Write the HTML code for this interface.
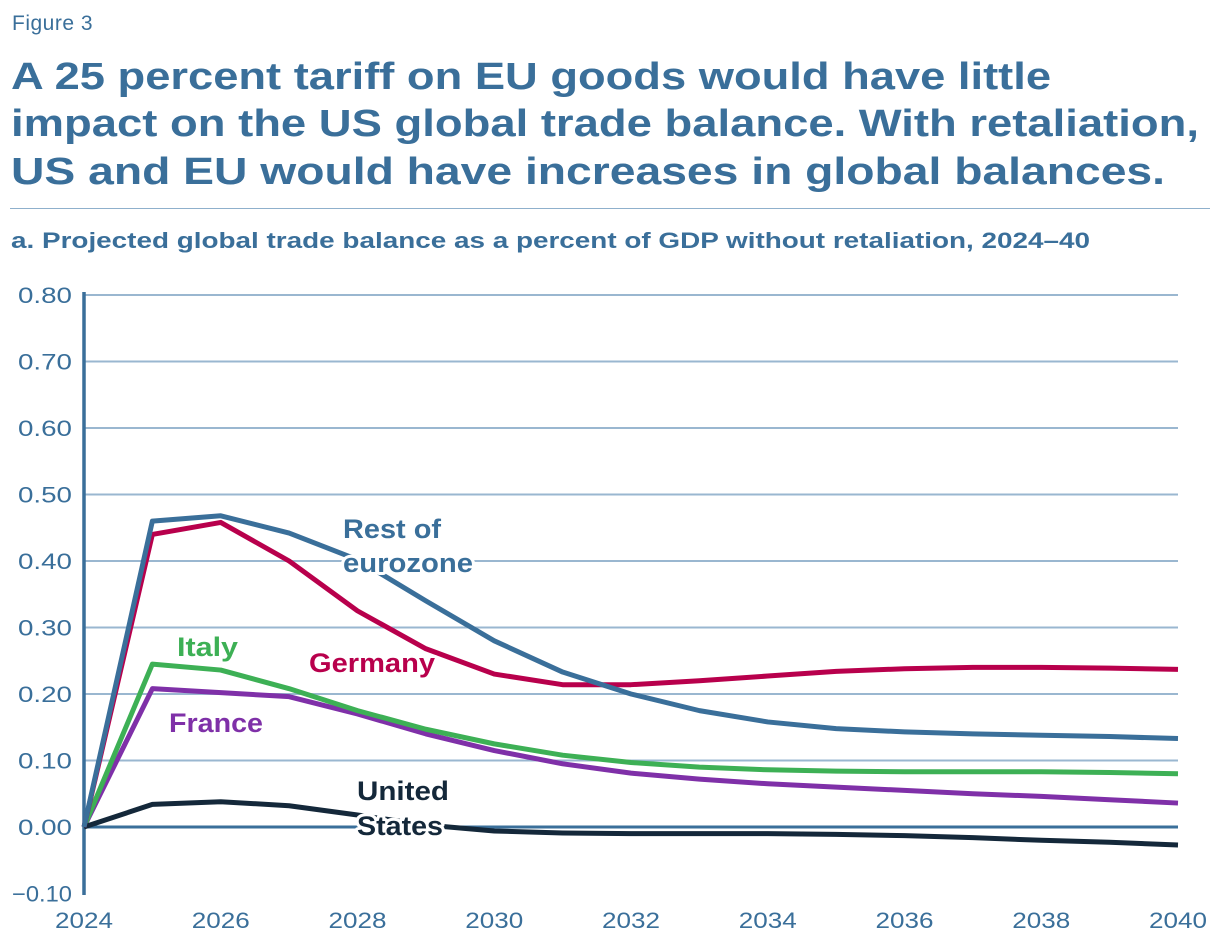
<!DOCTYPE html>
<html><head><meta charset="utf-8">
<style>
body{margin:0;background:#fff;width:1220px;height:946px;overflow:hidden;font-family:"Liberation Sans",sans-serif;}
.fig{position:absolute;left:12px;top:12px;font-size:21px;color:#3a6f9a;letter-spacing:0.5px;}
.tl{position:absolute;left:11px;font-size:38px;line-height:40px;font-weight:bold;color:#3a6f9a;white-space:nowrap;transform-origin:0 0;}
.rule{position:absolute;left:10px;top:208px;width:1200px;height:1px;background:#8fb0cc;}
.sub{position:absolute;left:11px;top:228px;font-size:22px;font-weight:bold;color:#3a6f9a;white-space:nowrap;transform-origin:0 0;}
svg{position:absolute;left:0;top:0;}
</style></head><body>
<div class="fig">Figure 3</div>
<div class="tl" style="top:57px" data-w="1040">A 25 percent tariff on EU goods would have little</div>
<div class="tl" style="top:104px" data-w="1188">impact on the US global trade balance. With retaliation,</div>
<div class="tl" style="top:152px" data-w="1154">US and EU would have increases in global balances.</div>
<div class="rule"></div>
<div class="sub" data-w="1079">a. Projected global trade balance as a percent of GDP without retaliation, 2024–40</div>
<svg id="chart" width="1220" height="946"></svg>
<script>
document.querySelectorAll('[data-w]').forEach(el=>{
  const w=el.getBoundingClientRect().width;
  el.style.transform='scaleX('+(el.getAttribute('data-w')/w)+')';
});
const years=[2024,2025,2026,2027,2028,2029,2030,2031,2032,2033,2034,2035,2036,2037,2038,2039,2040];
const yTicks=[-0.1,0,0.1,0.2,0.3,0.4,0.5,0.6,0.7,0.8];
const xTicks=[2024,2026,2028,2030,2032,2034,2036,2038,2040];
const restEuro=[0,0.46,0.468,0.442,0.402,0.34,0.28,0.233,0.2,0.175,0.158,0.148,0.143,0.14,0.138,0.136,0.133];
const germany=[0,0.44,0.458,0.40,0.325,0.268,0.23,0.214,0.214,0.22,0.227,0.234,0.238,0.24,0.24,0.239,0.237];
const italy=[0,0.245,0.236,0.208,0.175,0.147,0.125,0.108,0.097,0.09,0.086,0.084,0.083,0.083,0.083,0.082,0.08];
const france=[0,0.208,0.202,0.196,0.17,0.14,0.115,0.095,0.081,0.072,0.065,0.06,0.055,0.05,0.046,0.041,0.036];
const us=[0,0.034,0.038,0.032,0.018,0.003,-0.006,-0.009,-0.01,-0.01,-0.01,-0.011,-0.013,-0.016,-0.02,-0.023,-0.027];

const NS='http://www.w3.org/2000/svg';
const svg=document.getElementById('chart');
const x=v=>84+(v-2024)*(1178-84)/16;
const y=v=>827-v*665;
function mk(t,a){const e=document.createElementNS(NS,t);for(const k in a)e.setAttribute(k,a[k]);svg.appendChild(e);return e;}
yTicks.forEach(t=>{
  if(t>0){const g=mk('line',{x1:84,x2:1178,y1:y(t),y2:y(t),stroke:'#9ab7d0','stroke-width':2});
  
  }
  const l=mk('text',{x:72,y:y(t)+8,'text-anchor':'end','font-size':22,fill:'#3a6f9a',textLength:t<0?60:54,lengthAdjust:'spacingAndGlyphs'});
  l.textContent=(t<0?'−':'')+Math.abs(t).toFixed(2);
  
  
});
xTicks.forEach(t=>{
  const l=mk('text',{x:x(t),y:928,'text-anchor':'middle','font-size':22,fill:'#3a6f9a',textLength:58,lengthAdjust:'spacingAndGlyphs'});
  l.textContent=t;
  
  
});
const z=mk('line',{x1:84,x2:1178,y1:y(0),y2:y(0),stroke:'#3a6f9a','stroke-width':3});


const ax=mk('line',{x1:84,x2:84,y1:292,y2:895,stroke:'#3a6f9a','stroke-width':3.5});


const series=[[france,'#7f30a8','france-line'],[italy,'#3db055','italy-line'],[us,'#14283a','united-states-line'],[germany,'#b8004c','germany-line'],[restEuro,'#3a6f9a','rest-of-eurozone-line']];
series.forEach(([d,c,n])=>{
  const p=mk('polyline',{points:d.map((v,i)=>x(years[i])+','+y(v)).join(' '),fill:'none',stroke:c,'stroke-width':5,'stroke-linejoin':'round'});
  
  
});
const labels=[['Rest of',343,538,98,'#3a6f9a'],['eurozone',343,572,130,'#3a6f9a'],['Germany',309,672,126,'#b8004c'],['Italy',177,656,61,'#3db055'],['France',169,732,94,'#7f30a8'],['United',357,800,92,'#14283a'],['States',357,835,86,'#14283a']];
labels.forEach(([t,lx,ly,w,c])=>{
  const l=mk('text',{x:lx,y:ly,'font-size':27,'font-weight':'bold',fill:c,stroke:'#fff','stroke-width':6,'paint-order':'stroke','stroke-linejoin':'round',textLength:w,lengthAdjust:'spacingAndGlyphs'});
  l.textContent=t;
  
  
});
</script>
</body></html>
